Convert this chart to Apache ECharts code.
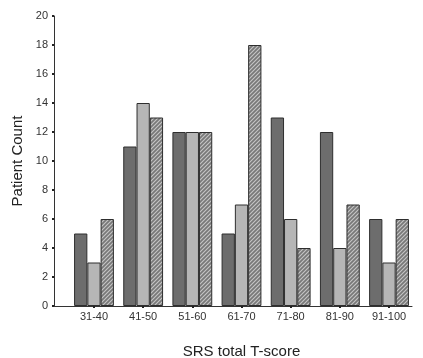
<!DOCTYPE html>
<html>
<head>
<meta charset="utf-8">
<script src="https://cdn.jsdelivr.net/npm/echarts@6/dist/echarts.min.js"></script>
<style>
  html, body { margin: 0; padding: 0; background: #fff; }
  #chart { width: 423px; height: 358px; }
</style>
</head>
<body>
<div id="chart"></div>
<script>
// SRS total T-score bins and patient counts for the three groups
var categories = ['31-40', '41-50', '51-60', '61-70', '71-80', '81-90', '91-100'];
var groupA = [5, 11, 12, 5, 13, 12, 6];
var groupB = [3, 14, 12, 7, 6, 4, 3];
var groupC = [6, 13, 12, 18, 4, 7, 6];
var yTicks = [0, 2, 4, 6, 8, 10, 12, 14, 16, 18, 20];

// Diagonal hatch fill for the third group
function hatchPattern() {
  var c = document.createElement('canvas');
  var s = 4;
  c.width = s; c.height = s;
  var ctx = c.getContext('2d');
  ctx.fillStyle = '#787878';
  ctx.fillRect(0, 0, s, s);
  ctx.strokeStyle = '#c6c6c6';
  ctx.lineWidth = 1.1;
  ctx.beginPath();
  ctx.moveTo(-1, s + 1); ctx.lineTo(s + 1, -1);
  ctx.moveTo(-1, 1); ctx.lineTo(1, -1);
  ctx.moveTo(s - 1, s + 1); ctx.lineTo(s + 1, s - 1);
  ctx.stroke();
  return { image: c, repeat: 'repeat' };
}

var font = 'Liberation Sans, Arial, sans-serif';
var chart = echarts.init(document.getElementById('chart'), null, { renderer: 'canvas' });

var border = { borderColor: '#2e2e2e', borderWidth: 1 };

chart.setOption({
  animation: false,
  backgroundColor: '#fff',
  grid: [
    { left: 54, right: 11, top: 16, bottom: 52, outerBoundsMode: 'none' },
    { left: 69.4, right: 9.4, top: 16, bottom: 52, outerBoundsMode: 'none' }
  ],
  xAxis: [
    {
      gridIndex: 0, type: 'value', min: 0, max: 1,
      axisLine: { show: true, lineStyle: { color: '#333', width: 1 } },
      axisTick: { show: false }, axisLabel: { show: false }, splitLine: { show: false }
    },
    {
      gridIndex: 1, type: 'category', data: categories,
      name: 'SRS total T-score', nameLocation: 'middle', nameGap: 38,
      nameTextStyle: { fontFamily: font, fontSize: 15, color: '#222' },
      axisLine: { show: false },
      axisTick: { show: true, alignWithLabel: true, length: 2, lineStyle: { color: '#222', width: 2 } },
      axisLabel: { fontFamily: font, fontSize: 11, color: '#333', margin: 5 },
      splitLine: { show: false }
    }
  ],
  yAxis: [
    {
      gridIndex: 0, type: 'value', min: 0, max: 20, interval: 2,
      name: 'Patient Count', nameLocation: 'middle', nameGap: 29,
      nameTextStyle: { fontFamily: font, fontSize: 15, color: '#222' },
      axisLine: { show: true, lineStyle: { color: '#333', width: 1 } },
      axisTick: { show: true, length: 2, lineStyle: { color: '#222', width: 2 } },
      axisLabel: {
        fontFamily: font, fontSize: 11, color: '#333', margin: 6,
        formatter: function (v) { return yTicks.indexOf(v) >= 0 ? String(v) : ''; }
      },
      splitLine: { show: false }
    },
    {
      gridIndex: 1, type: 'value', min: 0, max: 20, interval: 2, show: false
    }
  ],
  series: [
    {
      type: 'bar', xAxisIndex: 1, yAxisIndex: 1, data: groupA,
      barWidth: '27%', barGap: '0%',
      itemStyle: Object.assign({ color: '#6d6d6d' }, border)
    },
    {
      type: 'bar', xAxisIndex: 1, yAxisIndex: 1, data: groupB,
      barWidth: '27%', barGap: '0%',
      itemStyle: Object.assign({ color: '#b6b6b6' }, border)
    },
    {
      type: 'bar', xAxisIndex: 1, yAxisIndex: 1, data: groupC,
      barWidth: '27%', barGap: '0%',
      itemStyle: Object.assign({ color: hatchPattern() }, border)
    }
  ]
});
</script>
</body>
</html>
